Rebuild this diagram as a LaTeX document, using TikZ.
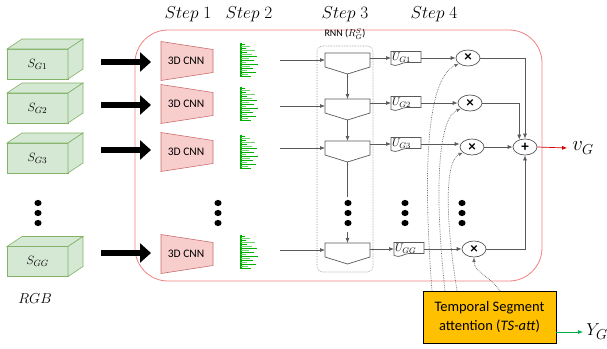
\documentclass[tikz,border=0pt]{standalone}
\usepackage{fontspec}
\setmainfont{Carlito}
\usetikzlibrary{arrows.meta,shapes.geometric,calc}
\definecolor{frame}{RGB}{240,128,128}
\definecolor{cubeline}{RGB}{130,179,102}
\definecolor{cubefill}{RGB}{213,232,212}
\definecolor{cnnfill}{RGB}{248,206,204}
\definecolor{cnnline}{RGB}{200,110,110}
\definecolor{bargreen}{RGB}{0,176,0}
\definecolor{barlight}{RGB}{110,210,110}
\definecolor{orangebox}{RGB}{255,192,0}
\definecolor{ygreen}{RGB}{0,176,80}
\begin{document}
\begin{tikzpicture}[x=1pt,y=-1pt,
  line/.style={draw=black!65, line width=0.7pt},
  arr/.style={line, -{Latex[length=5pt,width=4pt]}},
  dotarr/.style={draw=black!60, line width=0.7pt, densely dotted, -{Latex[length=4.5pt,width=3.5pt]}},
  cube/.style={draw=cubeline, fill=cubefill, line width=0.6pt, minimum width=61pt, minimum height=30pt, inner sep=0, outer sep=0, font=\fontsize{13}{15}\selectfont},
  cubeface/.style={draw=cubeline, fill=cubefill, line width=0.6pt},
  cnnface/.style={draw=cnnline, fill=cnnfill, line width=0.6pt},
  cnntext/.style={font=\fontsize{11.5}{13}\selectfont, inner sep=0},
  bigarrow/.style={line width=6.5pt, -{Triangle[length=11pt,width=19pt]}},
  cellbox/.style={minimum width=45pt, minimum height=14pt, inner sep=0, outer sep=0},
  cellline/.style={draw=black!65, line width=0.7pt},
  docbox/.style={minimum height=13pt, text width=28pt, inner xsep=1pt, inner ysep=0, outer sep=0, align=left, font=\fontsize{11}{12}\selectfont},
  opnode/.style={ellipse, draw=black!65, line width=0.7pt, minimum width=24pt, minimum height=16pt, inner sep=0, font=\fontsize{15}{15}\selectfont\bfseries},
  dotfill/.style={fill=black},
  steplab/.style={font=\fontsize{16}{18}\selectfont, inner sep=0},
  barline/.style={line width=0.9pt}
]
\useasboundingbox (0,0) rectangle (607,348);

% main frame
\node[draw=frame, line width=0.8pt, rounded corners=33pt, minimum width=407pt, minimum height=251pt, inner sep=0] (main) at (338.5,155.5) {};

% step labels
\node[steplab] (st1) at (188,14) {$Step\;1$};
\node[steplab] (st2) at (249,14) {$Step\;2$};
\node[steplab] (st3) at (345,14) {$Step\;3$};
\node[steplab] (st4) at (434,14) {$Step\;4$};

% cuboids
\foreach \n/\y/\lab in {1/64/G1, 2/108/G2, 3/158/G3, 4/261.5/GG}{
  \node[cube] (s\n) at (37.5,\y) {\raisebox{-3pt}{$S_{\lab}$}};
  \filldraw[cubeface] (s\n.north west) -- ++(15,-10) -- ++(61,0) -- (s\n.north east) -- cycle;
  \filldraw[cubeface] (s\n.north east) -- ++(15,-10) -- ++(0,30) -- (s\n.south east) -- cycle;
}
\node[font=\fontsize{15}{17}\selectfont, inner sep=0] (rgb) at (35,299) {$RGB$};

% thick arrows
\foreach \n/\y in {1/62, 2/105, 3/150, 4/253}{
  \coordinate (aL\n) at (101,\y);
  \coordinate (aR\n) at (151,\y);
  \draw[bigarrow] (aL\n) -- (aR\n);
}

% 3D CNN trapezoids
\foreach \n/\y in {1/61, 2/104, 3/152, 4/254}{
  \filldraw[cnnface] (161,\y-19.5) -- (213,\y-11.5) -- (213,\y+11.5) -- (161,\y+19.5) -- cycle;
  \node[cnntext] (cnn\n) at (186,\y) {3D CNN};
}

% bar charts
\foreach \n/\y in {1/60, 2/104, 3/152, 4/252}{
  \draw[bargreen, line width=1.3pt] (241,\y-17) -- (241,\y+17);
  \foreach \o/\l in {-16/4,-12/5,-8/6,-4/16,0/13,4/17,8/12,12/15,16/10}{
    \draw[bargreen, barline] (241,\y+\o) -- ++(\l,0);
  }
  \foreach \o/\l in {-14/9,-10/14,-6/11,-2/8,2/5,6/9,10/6,14/7}{
    \draw[barlight, barline] (241,\y+\o) -- ++(\l,0);
  }
}

% stacked dots
\foreach \x in {38, 218, 348, 405, 462}{
  \foreach \yy in {203, 213, 223}{
    \fill[dotfill] (\x,\yy) ellipse [x radius=3.6pt, y radius=3.1pt];
  }
}

% RNN box
\node[draw=black!45, densely dotted, line width=0.6pt, rounded corners=6pt, minimum width=56pt, minimum height=226pt, inner sep=0] (rnn) at (345,159) {};
\node[font=\fontsize{10}{12}\selectfont, inner sep=0] (rnnlab) at (345,34) {RNN ($R_G^S$)};

% RNN cells
\foreach \n/\y in {1/60, 2/106, 3/148, 4/250}{
  \node[cellbox] (r\n) at (347.5,\y) {};
  \draw[cellline] (r\n.north west) -- (r\n.north east) -- (r\n.south east) -- ($(r\n.south)+(0,7)$) coordinate (t\n) -- (r\n.south west) -- cycle;
  \coordinate (in\n) at (280,\y);
  \draw[arr] (in\n) -- (r\n.west);
}
\draw[arr] (t1) -- (r2.north);
\draw[arr] (t2) -- (r3.north);
\coordinate (v3e) at (347.5,197);
\coordinate (v4s) at (347.5,232);
\draw[line] (t3) -- (v3e);
\draw[arr] (v4s) -- (r4.north);

% U documents
\foreach \n/\x/\y/\lab in {1/406/58/G1, 2/406/103/G2, 3/406/144/G3, 4/409/249/GG}{
  \node[docbox] (u\n) at (\x,\y) {$U_{\lab}$};
  \draw[cellline] (u\n.north west) -- (u\n.north east) -- ($(u\n.south east)+(0,-2)$) -- ($(u\n.south)+(0,-2)$) .. controls +(-5,0) and +(6,3) .. (u\n.south west) -- cycle;
  \draw[arr] (r\n.east |- u\n.west) -- (u\n.west);
}

% multiply nodes
\node[opnode] (x1) at (468,58) {×};
\node[opnode] (x2) at (470,103) {×};
\node[opnode] (x3) at (472,147) {×};
\node[opnode] (x4) at (474,249) {×};
\foreach \n in {1,2,3,4}{
  \draw[arr] (u\n.east) -- (x\n.west |- u\n.east);
}

% sum node
\node[opnode] (plus) at (525,147) {+};
\draw[arr] (x1.east) -| (plus.north);
\draw[arr] (x2.east) -| (plus.128);
\draw[arr] (x3.east) -- (plus.west);
\draw[arr] (x4.east) -| (plus.south);

% v_G output
\node[font=\fontsize{22}{24}\selectfont, inner sep=0] (vg) at (583,148) {$v_G$};
\draw[draw=red!85!black, line width=0.7pt, -{Latex[length=5pt,width=4pt]}] (plus.east) -- ($(vg.west)+(-5,0)$);

% TS-att box
\node[draw=black, fill=orangebox, line width=0.8pt, minimum width=133pt, minimum height=52pt, align=center, font=\fontsize{14.5}{19}\selectfont, inner sep=0] (ts) at (489.5,317) {Temporal Segment\\attention (\textit{TS-att})};
\node[font=\fontsize{19}{21}\selectfont, inner sep=0] (yg) at (597,332) {$Y_G$};
\draw[draw=ygreen, line width=0.8pt, -{Latex[length=5pt,width=4pt]}] (ts.east |- yg.west) -- ($(yg.west)+(-3,0)$);

% attention dotted curves
\coordinate (c1) at (432,291);
\coordinate (c2) at (445,291);
\coordinate (c3) at (457,291);
\coordinate (c4) at (500,291);
\draw[dotarr] (c1) .. controls (422,160) and (428,78) .. (x1.212);
\draw[dotarr] (c2) .. controls (434,190) and (438,118) .. (x2.212);
\draw[dotarr] (c3) .. controls (444,210) and (446,160) .. (x3.212);
\draw[dotarr] (c4) .. controls (490,276) and (474,272) .. (x4.south);
\end{tikzpicture}
\end{document}
